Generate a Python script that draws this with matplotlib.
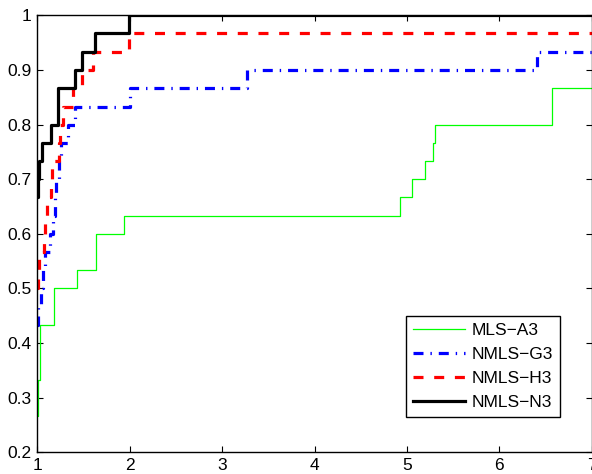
import matplotlib
matplotlib.use("Agg")
import matplotlib.pyplot as plt

plt.rcParams['font.family'] = ['Liberation Sans', 'DejaVu Sans']
plt.rcParams['lines.scale_dashes'] = False

# Performance profile data (step functions), x = tau, y = fraction of problems
labels = ["MLS\u2212A3", "NMLS\u2212G3", "NMLS\u2212H3", "NMLS\u2212N3"]

a3_x = [1.0, 1.004, 1.03, 1.185, 1.426, 1.632, 1.938, 4.93, 5.05, 5.20, 5.28, 5.30, 6.574]
a3_y = [0.267, 0.333, 0.433, 0.5, 0.533, 0.6, 0.633, 0.667, 0.7, 0.733, 0.767, 0.8, 0.867]

g3_x = [1.0, 1.01, 1.04, 1.06, 1.08, 1.14, 1.17, 1.19, 1.20, 1.23, 1.26, 1.33, 1.41, 2.0, 3.27, 6.41]
g3_y = [0.433, 0.467, 0.5, 0.533, 0.567, 0.6, 0.633, 0.667, 0.7, 0.733, 0.767, 0.8, 0.833, 0.867, 0.9, 0.933]

h3_x = [1.0, 1.01, 1.02, 1.07, 1.08, 1.10, 1.145, 1.16, 1.23, 1.25, 1.28, 1.39, 1.48, 1.60, 1.99]
h3_y = [0.5, 0.533, 0.567, 0.6, 0.633, 0.667, 0.7, 0.733, 0.767, 0.8, 0.833, 0.867, 0.9, 0.933, 0.967]

n3_x = [1.0, 1.005, 1.015, 1.055, 1.145, 1.227, 1.41, 1.48, 1.62, 1.995]
n3_y = [0.667, 0.7, 0.733, 0.767, 0.8, 0.867, 0.9, 0.933, 0.967, 1.0]

x_ticks = [1, 2, 3, 4, 5, 6, 7]
y_ticks = [0.2, 0.3, 0.4, 0.5, 0.6, 0.7, 0.8, 0.9, 1.0]
y_ticklabels = ["0.2", "0.3", "0.4", "0.5", "0.6", "0.7", "0.8", "0.9", "1"]
x_max = 7

fig = plt.figure(figsize=(5.92, 4.74), dpi=100)
ax = fig.add_axes([37.3 / 592, (474 - 452.3) / 474, (591.7 - 37.3) / 592, (452.3 - 15.3) / 474])

def ext(xs, ys):
    return list(xs) + [x_max], list(ys) + [ys[-1]]

x, y = ext(a3_x, a3_y)
ax.plot(x, y, drawstyle='steps-post', color=(0, 1, 0), lw=0.9, label=labels[0])
x, y = ext(g3_x, g3_y)
ax.plot(x, y, drawstyle='steps-post', color=(0, 0, 1), lw=2.3, dashes=(7.2, 5.0, 1.0, 5.0),
        dash_capstyle='butt', label=labels[1])
x, y = ext(h3_x, h3_y)
ax.plot(x, y, drawstyle='steps-post', color=(1, 0, 0), lw=2.3, dashes=(7.2, 7.7),
        dash_capstyle='butt', label=labels[2])
x, y = ext(n3_x, n3_y)
ax.plot(x, y, drawstyle='steps-post', color='black', lw=2.3, label=labels[3])

ax.set_xlim(1, 7)
ax.set_ylim(0.2, 1.0)
ax.set_xticks(x_ticks)
ax.set_xticklabels([str(t) for t in x_ticks])
ax.set_yticks(y_ticks)
ax.set_yticklabels(y_ticklabels)
ax.tick_params(direction='in', length=4.5, width=0.8, top=True, right=True,
               labelsize=12.5, pad=4)
for s in ax.spines.values():
    s.set_linewidth(1.0)

leg = ax.legend(loc='lower right', bbox_to_anchor=(0.943, 0.0815), fontsize=12.5,
                handlelength=3.0, handletextpad=0.4, labelspacing=0.5,
                borderpad=0.39, fancybox=False, framealpha=1, edgecolor='black',
                borderaxespad=0)
leg.get_frame().set_linewidth(1.0)

fig.savefig("out.png", dpi=100)
